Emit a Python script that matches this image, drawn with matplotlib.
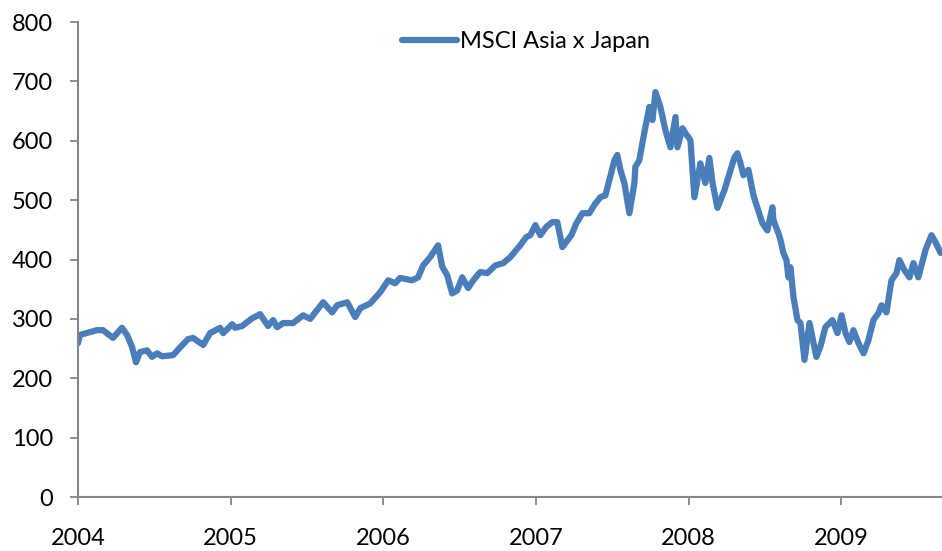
import matplotlib
matplotlib.use("Agg")
import matplotlib.pyplot as plt
import numpy as np

# ---------------- DATA ----------------
# decimal year, index level
years = [2004.000, 2004.013, 2004.124, 2004.164, 2004.229, 2004.288, 2004.321, 2004.354,
         2004.380, 2004.406, 2004.452, 2004.485, 2004.518, 2004.551, 2004.623, 2004.669,
         2004.721, 2004.754, 2004.820, 2004.865, 2004.931, 2004.951, 2005.010, 2005.029,
         2005.075, 2005.141, 2005.193, 2005.245, 2005.278, 2005.304, 2005.344, 2005.409,
         2005.475, 2005.521, 2005.567, 2005.606, 2005.665, 2005.698, 2005.764, 2005.816,
         2005.849, 2005.914, 2005.980, 2006.032, 2006.077, 2006.110, 2006.189, 2006.228,
         2006.261, 2006.307, 2006.359, 2006.386, 2006.418, 2006.451, 2006.484, 2006.517,
         2006.556, 2006.589, 2006.635, 2006.681, 2006.733, 2006.786, 2006.832, 2006.897,
         2006.937, 2006.963, 2006.996, 2007.029, 2007.068, 2007.107, 2007.140, 2007.173,
         2007.232, 2007.265, 2007.304, 2007.350, 2007.383, 2007.422, 2007.455, 2007.487,
         2007.514, 2007.533, 2007.553, 2007.579, 2007.612, 2007.645, 2007.651, 2007.677,
         2007.697, 2007.717, 2007.743, 2007.763, 2007.783, 2007.815, 2007.848, 2007.881,
         2007.914, 2007.927, 2007.960, 2007.979, 2008.012, 2008.038, 2008.077, 2008.110,
         2008.136, 2008.156, 2008.189, 2008.235, 2008.268, 2008.300, 2008.320, 2008.340,
         2008.359, 2008.392, 2008.425, 2008.438, 2008.484, 2008.516, 2008.549, 2008.556,
         2008.589, 2008.602, 2008.621, 2008.641, 2008.654, 2008.667, 2008.687, 2008.713,
         2008.733, 2008.759, 2008.792, 2008.811, 2008.837, 2008.863, 2008.896, 2008.942,
         2008.975, 2009.002, 2009.028, 2009.054, 2009.080, 2009.113, 2009.146, 2009.178,
         2009.211, 2009.244, 2009.264, 2009.296, 2009.329, 2009.362, 2009.381, 2009.414,
         2009.447, 2009.473, 2009.505, 2009.552, 2009.591, 2009.620, 2009.651]
msci_asia_x_japan = [259, 273, 281, 281, 268, 285, 273, 253,
                     227, 244, 247, 236, 242, 237, 239, 252,
                     266, 268, 256, 276, 285, 276, 291, 285,
                     288, 301, 308, 288, 298, 286, 293, 293,
                     306, 300, 315, 328, 311, 323, 328, 303,
                     318, 326, 345, 365, 360, 369, 365, 370,
                     390, 404, 424, 388, 374, 343, 348, 370,
                     352, 365, 379, 377, 390, 394, 404, 424,
                     438, 441, 458, 441, 455, 463, 463, 421,
                     441, 461, 478, 478, 492, 505, 508, 540,
                     567, 576, 551, 529, 478, 529, 556, 567,
                     596, 623, 657, 635, 682, 657, 618, 589,
                     640, 589, 621, 613, 601, 505, 562, 529,
                     571, 530, 487, 517, 545, 572, 579, 562,
                     542, 551, 508, 497, 461, 449, 488, 466,
                     444, 433, 411, 399, 370, 387, 337, 298,
                     293, 231, 293, 269, 236, 253, 286, 298,
                     276, 306, 276, 261, 281, 259, 242, 264,
                     298, 310, 323, 311, 365, 377, 399, 382,
                     370, 394, 370, 416, 441, 428, 411]
series_name = "MSCI Asia x Japan"
year_ticks = [2004, 2005, 2006, 2007, 2008, 2009]
value_ticks = [0, 100, 200, 300, 400, 500, 600, 700, 800]

plt.rcParams["font.family"] = ["Lato", "DejaVu Sans"]

fig = plt.figure(figsize=(9.42, 5.51), dpi=100)
ax = fig.add_axes([0.0828, 0.098, 0.9172, 0.862])

line, = ax.plot(years, msci_asia_x_japan, color="#4A7EBB", lw=4.5,
                solid_joinstyle="round", solid_capstyle="round", label=series_name)

ax.set_xlim(2004, 2009.66)
ax.set_ylim(0, 800)
ax.set_xticks(year_ticks)
ax.set_xticklabels([str(y) for y in year_ticks])
ax.set_yticks(value_ticks)

for side in ["top", "right"]:
    ax.spines[side].set_visible(False)
for side in ["left", "bottom"]:
    ax.spines[side].set_color("#868686")
    ax.spines[side].set_linewidth(1.5)

ax.tick_params(axis="both", colors="#868686", labelcolor="black", labelsize=17,
               width=1.3, length=6, direction="out")
ax.tick_params(axis="x", pad=16)
ax.tick_params(axis="y", pad=12)

fig.legend(handles=[line], loc="center left", bbox_to_anchor=(0.427, 0.924),
           frameon=False, fontsize=17, handlelength=2.3, handletextpad=0.15,
           borderpad=0, borderaxespad=0)

fig.savefig("out.png", dpi=100)
